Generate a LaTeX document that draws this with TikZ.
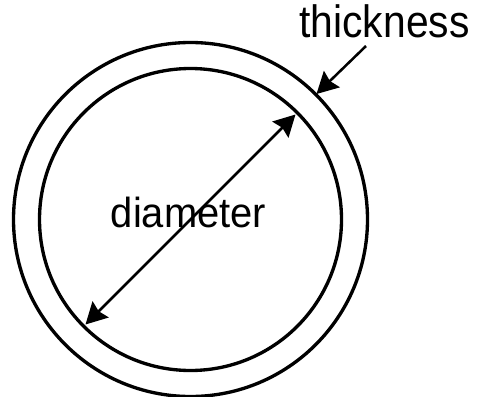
\documentclass[tikz,border=0pt]{standalone}
\usepackage{fontspec}
\setmainfont{Liberation Sans}
\usetikzlibrary{arrows.meta}
\tikzset{
  ring/.style={line width=2.5pt,black},
  ar/.style={-{Stealth[length=16pt,width=17pt,inset=2pt]},line width=1.9pt,black},
  dar/.style={{Stealth[length=16pt,width=17pt,inset=2pt]}-{Stealth[length=16pt,width=17pt,inset=2pt]},line width=1.9pt,black},
  lbl/.style={inner sep=0pt,anchor=base}
}

\begin{document}
\begin{tikzpicture}[x=0.75pt,y=-0.75pt]
\useasboundingbox (0,0) rectangle (478,396);
\coordinate (c) at (190.5,219.5);
\draw[ring] (c) circle[radius=132.75pt];
\draw[ring] (c) circle[radius=113.25pt];
\node[lbl,font=\fontsize{31.5pt}{38pt}\selectfont] (diam) at (188.5,227) {\scalebox{0.95}[1]{diameter}};
\node[lbl,font=\fontsize{34pt}{40pt}\selectfont] (thick) at (384.5,37) {\scalebox{0.9}[1]{thickness}};
\coordinate (dtop) at (295.5,114.5);
\coordinate (dbot) at (85.5,324.5);
\draw[dar] (dbot) -- (dtop);
\coordinate (tstart) at (366,46);
\coordinate (tip) at (316.5,94);
\draw[ar] (tstart) -- (tip);
\end{tikzpicture}
\end{document}
